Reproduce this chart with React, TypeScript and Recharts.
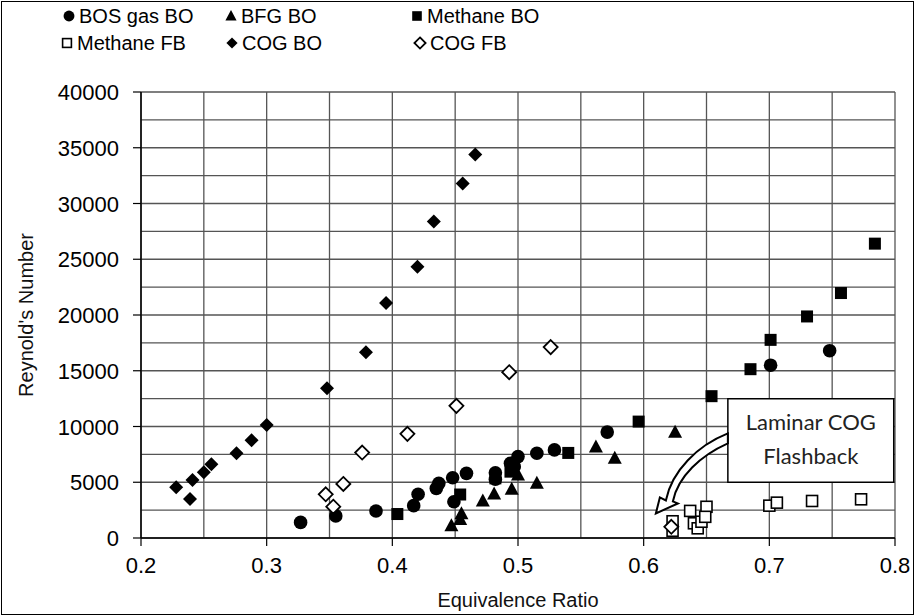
import React from 'react';
import {
  ScatterChart, Scatter, XAxis, YAxis, CartesianGrid, ReferenceArea, ReferenceDot
} from 'recharts';

// [equivalence ratio, Reynolds number]
const BOS_GAS_BO: [number, number][] = [
  [0.327, 1400], [0.355, 1980], [0.387, 2420], [0.417, 2900], [0.449, 3250], [0.4205, 3920],
  [0.435, 4450], [0.437, 4900], [0.448, 5400], [0.459, 5800], [0.482, 5270], [0.482, 5850],
  [0.494, 6700], [0.497, 6400], [0.5, 7300], [0.515, 7600], [0.529, 7900], [0.571, 9500],
  [0.701, 15500], [0.748, 16800],
];
const BFG_BO: [number, number][] = [
  [0.447, 1100], [0.454, 1650], [0.455, 2180], [0.472, 3320], [0.481, 3950], [0.495, 4370],
  [0.5, 5650], [0.515, 4900], [0.562, 8170], [0.577, 7150], [0.625, 9490],
];
const METHANE_BO: [number, number][] = [
  [0.404, 2150], [0.454, 3900], [0.482, 5350], [0.494, 5950], [0.54, 7630], [0.596, 10440],
  [0.654, 12720], [0.685, 15140], [0.701, 17770], [0.73, 19870], [0.757, 21970], [0.784, 26400],
];
const METHANE_FB: [number, number][] = [
  [0.623, 650], [0.623, 1500], [0.637, 2430], [0.65, 2800], [0.64, 1320], [0.643, 870],
  [0.646, 1460], [0.649, 1900], [0.7, 2900], [0.706, 3170], [0.734, 3320], [0.773, 3470],
];
const COG_BO: [number, number][] = [
  [0.228, 4550], [0.239, 3500], [0.241, 5200], [0.25, 5900], [0.256, 6620], [0.276, 7600],
  [0.288, 8770], [0.3, 10140], [0.348, 13440], [0.379, 16670], [0.395, 21070], [0.42, 24330],
  [0.433, 28390], [0.456, 31800], [0.466, 34400],
];
const COG_FB: [number, number][] = [
  [0.347, 3920], [0.353, 2810], [0.361, 4850], [0.376, 7660], [0.412, 9340], [0.451, 11850],
  [0.493, 14870], [0.526, 17120], [0.622, 1000],
];

const X_TICKS = [0.2, 0.25, 0.3, 0.35, 0.4, 0.45, 0.5, 0.55, 0.6, 0.65, 0.7, 0.75, 0.8];
const X_LABELS = [0.2, 0.3, 0.4, 0.5, 0.6, 0.7, 0.8];
const Y_TICKS = [0, 2500, 5000, 7500, 10000, 12500, 15000, 17500, 20000, 22500, 25000, 27500, 30000, 32500, 35000, 37500, 40000];
const Y_LABELS = [0, 5000, 10000, 15000, 20000, 25000, 30000, 35000, 40000];

const FONT = '"Liberation Sans", Arial, sans-serif';
const GRID = '#555';

type Kind = 'circle' | 'triangle' | 'square' | 'openSquare' | 'diamond' | 'openDiamond';

const SERIES: { name: string; data: [number, number][]; kind: Kind }[] = [
  { name: 'BOS gas BO', data: BOS_GAS_BO, kind: 'circle' },
  { name: 'BFG BO', data: BFG_BO, kind: 'triangle' },
  { name: 'Methane BO', data: METHANE_BO, kind: 'square' },
  { name: 'Methane FB', data: METHANE_FB, kind: 'openSquare' },
  { name: 'COG BO', data: COG_BO, kind: 'diamond' },
  { name: 'COG FB', data: COG_FB, kind: 'openDiamond' },
];

function Marker({ kind, cx, cy, s = 1 }: { kind: Kind; cx: number; cy: number; s?: number }) {
  switch (kind) {
    case 'circle':
      return <circle cx={cx} cy={cy} r={6.8 * s} fill="#000" />;
    case 'triangle':
      return <polygon points={`${cx},${cy - 7.5 * s} ${cx - 7 * s},${cy + 5.5 * s} ${cx + 7 * s},${cy + 5.5 * s}`} fill="#000" />;
    case 'square':
      return <rect x={cx - 6 * s} y={cy - 6 * s} width={12 * s} height={12 * s} fill="#000" />;
    case 'openSquare':
      return <rect x={cx - 5.5 * s} y={cy - 5.5 * s} width={11 * s} height={11 * s} fill="#fff" stroke="#000" strokeWidth={1.6} />;
    case 'diamond':
      return <polygon points={`${cx},${cy - 7 * s} ${cx + 7 * s},${cy} ${cx},${cy + 7 * s} ${cx - 7 * s},${cy}`} fill="#000" />;
    default:
      return <polygon points={`${cx},${cy - 7 * s} ${cx + 7 * s},${cy} ${cx},${cy + 7 * s} ${cx - 7 * s},${cy}`} fill="#fff" stroke="#000" strokeWidth={1.8} />;
  }
}

const near = (list: number[], v: number) => list.some((t) => Math.abs(t - v) < 1e-6);

function XTick(props: any) {
  const { x, y, payload } = props;
  if (!near(X_LABELS, payload.value)) return null;
  return (
    <g>
      <line x1={x} x2={x} y1={y - 12} y2={y - 4} stroke="#000" strokeWidth={1.2} />
      <text x={x} y={y + 23} textAnchor="middle" fontSize={22} fontFamily={FONT} fill="#000">
        {payload.value.toFixed(1)}
      </text>
    </g>
  );
}

function YTick(props: any) {
  const { x, y, payload } = props;
  if (!near(Y_LABELS, payload.value)) return null;
  return (
    <g>
      <line x1={x + 15} x2={x + 23} y1={y} y2={y} stroke="#000" strokeWidth={1.2} />
      <text x={x + 1} y={y + 8} textAnchor="end" fontSize={22} fontFamily={FONT} fill="#000">
        {payload.value}
      </text>
    </g>
  );
}

function BoxLabel(props: any) {
  const { x, y, width } = props.viewBox;
  const cx = x + width / 2;
  return (
    <g fontFamily='Lato, "Open Sans", sans-serif' fontSize={22} fill="#222" textAnchor="middle">
      <text x={cx} y={y + 31}>Laminar COG</text>
      <text x={cx} y={y + 65}>Flashback</text>
    </g>
  );
}

function CurvedArrow(props: any) {
  const { cx, cy } = props;
  const p = (dx: number, dy: number) => `${cx + dx},${cy + dy}`;
  const d = `M${p(0, -7)} C${p(-30, 5)} ${p(-56, 30)} ${p(-62, 60)} L${p(-68, 57)} L${p(-72, 73)} L${p(-50, 63)} L${p(-55, 61)} C${p(-50, 36)} ${p(-27, 15)} ${p(0, 3)} Z`;
  return <path d={d} fill="#fff" stroke="#000" strokeWidth={2} strokeLinejoin="miter" />;
}

const LEGEND_POS: { left: number; top: number }[] = [
  { left: 62, top: 3 }, { left: 224, top: 3 }, { left: 410, top: 3 },
  { left: 60, top: 30 }, { left: 225, top: 30 }, { left: 413, top: 30 },
];

export default function App() {
  const titleStyle = { fontSize: 20, fontFamily: FONT, fill: '#111' };
  return (
    <div style={{ position: 'fixed', left: 0, top: 0, width: 915, height: 616, background: '#fff' }}>
      <div style={{ position: 'absolute', left: 1, top: 1, width: 911, height: 612, border: '1.5px solid #000' }} />
      {SERIES.map((s, i) => (
        <div
          key={s.name}
          style={{
            position: 'absolute', left: LEGEND_POS[i].left, top: LEGEND_POS[i].top, display: 'flex',
            alignItems: 'center', fontFamily: FONT, fontSize: 20, color: '#000', whiteSpace: 'nowrap', lineHeight: '26px',
          }}
        >
          <svg width={14} height={14} style={{ marginRight: 3 }}>
            <Marker kind={s.kind} cx={7} cy={7} s={0.8} />
          </svg>
          {s.name}
        </div>
      ))}
      <ScatterChart width={915} height={616} margin={{ top: 92, right: 20, bottom: 6, left: 10 }}>
        <CartesianGrid stroke={GRID} strokeWidth={1.3} />
        <XAxis
          type="number" dataKey="x" domain={[0.2, 0.8]} ticks={X_TICKS} interval={0}
          height={72} tickSize={8} tickMargin={4} tickLine={false} tick={<XTick />}
          axisLine={{ stroke: '#000', strokeWidth: 1.5 }}
          label={{ value: 'Equivalence Ratio', position: 'insideBottom', offset: 3, style: titleStyle }}
        />
        <YAxis
          type="number" dataKey="y" domain={[0, 40000]} ticks={Y_TICKS} interval={0}
          width={131} tickSize={8} tickMargin={15} tickLine={false} tick={<YTick />}
          axisLine={{ stroke: '#000', strokeWidth: 1.5 }}
          label={{ value: "Reynold's Number", angle: -90, position: 'insideLeft', offset: 16, style: { ...titleStyle, textAnchor: 'middle' } }}
        />
        {SERIES.map((s) => (
          <Scatter
            key={s.name}
            name={s.name}
            data={s.data.map(([x, y]) => ({ x, y }))}
            isAnimationActive={false}
            shape={(p: any) => <Marker kind={s.kind} cx={p.cx} cy={p.cy} />}
          />
        ))}
        <ReferenceDot x={0.667} y={8750} r={0} shape={(p: any) => <CurvedArrow {...p} />} ifOverflow="visible" />
        <ReferenceArea
          x1={0.667} x2={0.799} y1={5000} y2={12500}
          fill="#fff" fillOpacity={1} stroke="#000" strokeWidth={1.5}
          label={<BoxLabel />}
        />
      </ScatterChart>
    </div>
  );
}
